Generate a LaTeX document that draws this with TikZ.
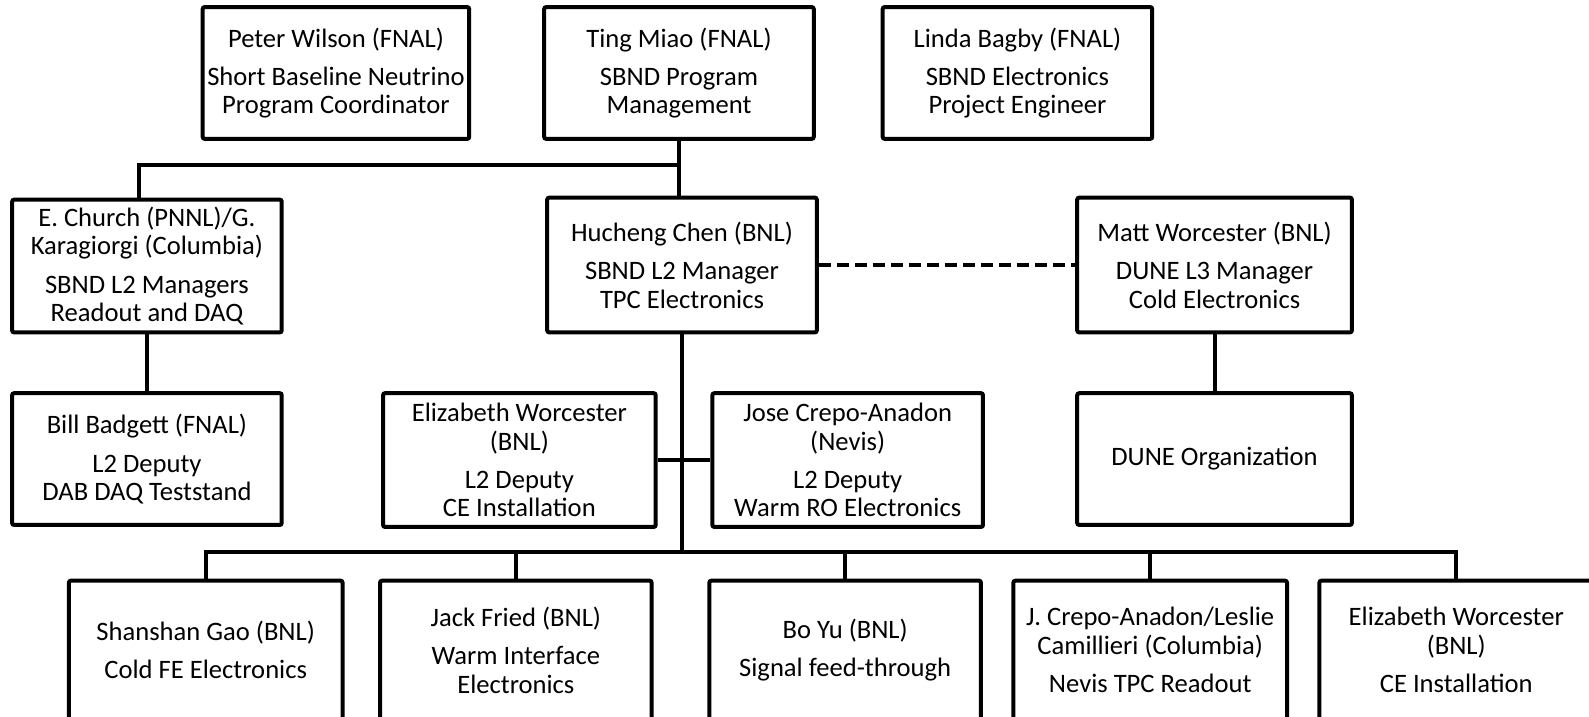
\documentclass[tikz,border=0pt]{standalone}
\usepackage{fontspec}
\setmainfont{Carlito}
\begin{document}
\begin{tikzpicture}[x=0.5067pt,y=-0.5067pt,
  box/.style={draw,line width=2pt,rectangle,rounded corners=1pt,inner sep=0pt,align=center,
    font=\fontsize{13.3pt}{14.2pt}\selectfont},
  link/.style={line width=2pt},
  dlink/.style={line width=2pt,dash pattern=on 6pt off 3pt}]
\useasboundingbox (0,0) rectangle (1568,707);
% row 1
\node[box,minimum width=263*0.5067pt,minimum height=130*0.5067pt] (PW) at (331.5,72) {Peter Wilson (FNAL)\\[5pt]Short Baseline Neutrino\\Program Coordinator};
\node[box,minimum width=266*0.5067pt,minimum height=130*0.5067pt] (TM) at (670,72) {Ting Miao (FNAL)\\[5pt]SBND Program\\Management};
\node[box,minimum width=266*0.5067pt,minimum height=130*0.5067pt] (LB) at (1004,72) {Linda Bagby (FNAL)\\[5pt]SBND Electronics\\Project Engineer};
% row 2
\node[box,minimum width=266*0.5067pt,minimum height=131*0.5067pt] (EC) at (145,262.5) {E. Church (PNNL)/G.\\Karagiorgi (Columbia)\\[5pt]SBND L2 Managers\\Readout and DAQ};
\node[box,minimum width=266*0.5067pt,minimum height=133*0.5067pt] (HC) at (673,261.5) {Hucheng Chen (BNL)\\[5pt]SBND L2 Manager\\TPC Electronics};
\node[box,minimum width=271*0.5067pt,minimum height=133*0.5067pt] (MW) at (1198.5,261.5) {Matt Worcester (BNL)\\[5pt]DUNE L3 Manager\\Cold Electronics};
% row 3
\node[box,minimum width=266*0.5067pt,minimum height=130*0.5067pt] (BB) at (145,453) {Bill Badgett (FNAL)\\[5pt]L2 Deputy\\DAB DAQ Teststand};
\node[box,minimum width=269*0.5067pt,minimum height=132*0.5067pt] (EW) at (512.5,454) {Elizabeth Worcester\\(BNL)\\[5pt]L2 Deputy\\CE Installation};
\node[box,minimum width=267*0.5067pt,minimum height=132*0.5067pt] (JC) at (836.5,454) {Jose Crepo-Anadon\\(Nevis)\\[5pt]L2 Deputy\\Warm RO Electronics};
\node[box,minimum width=271*0.5067pt,minimum height=130*0.5067pt] (DO) at (1198.5,453) {DUNE Organization};
% row 4
\node[box,minimum width=270*0.5067pt,minimum height=137*0.5067pt] (SG) at (203,641.5) {Shanshan Gao (BNL)\\[5pt]Cold FE Electronics};
\node[box,minimum width=268*0.5067pt,minimum height=137*0.5067pt] (JF) at (509,641.5) {Jack Fried (BNL)\\[5pt]Warm Interface\\Electronics};
\node[box,minimum width=268*0.5067pt,minimum height=137*0.5067pt] (BY) at (834,641.5) {Bo Yu (BNL)\\[5pt]Signal feed-through};
\node[box,minimum width=270*0.5067pt,minimum height=137*0.5067pt] (JCA) at (1135,641.5) {J. Crepo-Anadon/Leslie\\Camillieri (Columbia)\\[5pt]Nevis TPC Readout};
\node[box,minimum width=270*0.5067pt,minimum height=137*0.5067pt] (EW2) at (1437,641.5) {Elizabeth Worcester\\(BNL)\\[5pt]CE Installation};
% connectors
\coordinate (b1) at (0,163);
\coordinate (b2) at (0,545);
\draw[link] (TM.south) -- (TM.south |- HC.north);
\draw[link] (TM.south |- b1) -| ([xshift=-8*0.5067pt]EC.north);
\draw[link] (EC.south) -- (EC.south |- BB.north);
\draw[dlink] (HC.east) -- (MW.west);
\draw[link] (MW.south) -- (DO.north);
\draw[link] (HC.south) -- (HC.south |- b2);
\draw[link] (EW.east) -- (JC.west);
\draw[link] (SG.north) |- (EW2.north |- b2) -- (EW2.north);
\draw[link] (JF.north) -- (JF.north |- b2);
\draw[link] (BY.north) -- (BY.north |- b2);
\draw[link] (JCA.north) -- (JCA.north |- b2);
\end{tikzpicture}
\end{document}
